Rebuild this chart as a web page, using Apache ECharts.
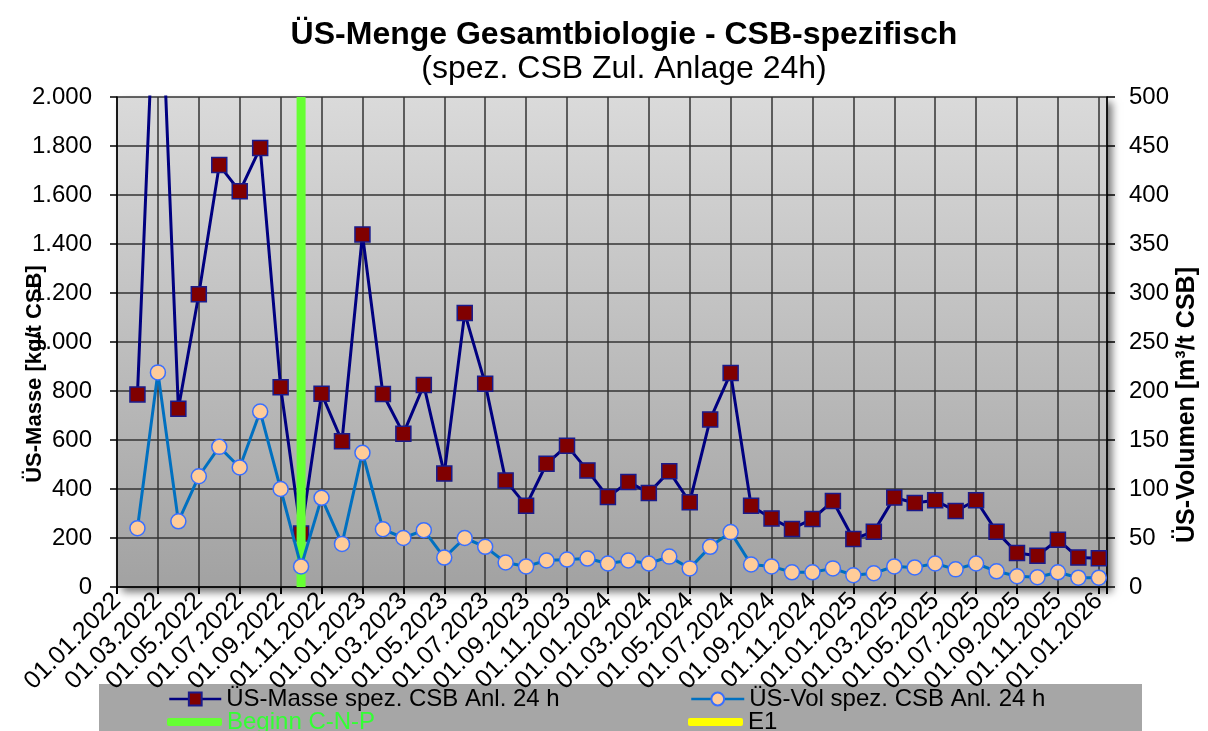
<!DOCTYPE html>
<html>
<head>
<meta charset="utf-8">
<script src="https://cdn.jsdelivr.net/npm/echarts@6/dist/echarts.min.js"></script>
<style>
  html, body { margin: 0; padding: 0; background: #fff; }
  #chart { width: 1208px; height: 731px; }
</style>
</head>
<body>
<div id="chart"></div>
<script>
// Monatswerte (Monat.Jahr)
var dates = [
    '02.2022','03.2022','04.2022','05.2022','06.2022','07.2022','08.2022','09.2022','10.2022','11.2022','12.2022',
    '01.2023','02.2023','03.2023','04.2023','05.2023','06.2023','07.2023','08.2023','09.2023','10.2023','11.2023','12.2023',
    '01.2024','02.2024','03.2024','04.2024','05.2024','06.2024','07.2024','08.2024','09.2024','10.2024','11.2024','12.2024',
    '01.2025','02.2025','03.2025','04.2025','05.2025','06.2025','07.2025','08.2025','09.2025','10.2025','11.2025','12.2025',
    '01.2026'
];
// ÜS-Masse spez. CSB [kg/t CSB]
var masse = [
    786, 2800, 728, 1195, 1722, 1615, 1792, 815, 218, 789, 595,
    1439, 788, 626, 824, 463, 1118, 830, 435, 332, 503, 577, 476,
    367, 429, 384, 472, 346, 684, 873, 332, 280, 237, 278, 351,
    196, 226, 365, 343, 354, 310, 354, 226, 139, 128, 193, 120,
    117
];
// ÜS-Vol spez. CSB [m³/t CSB]
var vol = [
    60, 219, 67, 113, 143, 122, 179, 100, 21, 91, 44,
    137, 59, 50, 58, 30, 50, 41, 25, 21, 27, 28, 29,
    24, 27, 24, 31, 19, 41, 56, 23, 21, 15, 15, 19,
    12, 14, 21, 20, 24, 18, 24, 16, 11, 10, 15, 9.5,
    9.5
];
var beginnCNP = '10.2022';   // Beginn C-N-P
var startJahr = 2022;         // x-Achse beginnt 01.01.2022

var font = "'Liberation Sans', Arial, sans-serif";

// Monat.Jahr -> Monatsindex ab 01.01.2022
function monIdx(s) {
    var p = s.split('.');
    return (parseInt(p[1], 10) - startJahr) * 12 + parseInt(p[0], 10) - 1;
}
function pad(n) { return n < 10 ? '0' + n : '' + n; }
function tausend(v) {
    return String(v).replace(/\B(?=(\d{3})+(?!\d))/g, '.');
}

var masseData = [], volData = [];
for (var i = 0; i < dates.length; i++) {
    masseData.push([monIdx(dates[i]), masse[i]]);
    volData.push([monIdx(dates[i]), vol[i]]);
}
var cnpX = monIdx(beginnCNP);

var chart = echarts.init(document.getElementById('chart'));

var legendText = { fontFamily: font, fontSize: 24, color: '#000' };

var option = {
    animation: false,
    backgroundColor: '#fff',
    textStyle: { fontFamily: font },
    title: {
        text: 'ÜS-Menge Gesamtbiologie - CSB-spezifisch',
        subtext: '(spez. CSB Zul. Anlage 24h)',
        left: 624,
        textAlign: 'center',
        top: 19,
        padding: 0,
        itemGap: 2,
        textStyle: { fontFamily: font, fontSize: 32, fontWeight: 'bold', color: '#000' },
        subtextStyle: { fontFamily: font, fontSize: 32, color: '#000' }
    },
    grid: {
        left: 117, right: 101, top: 97, bottom: 144,
        show: true,
        borderWidth: 0,
        backgroundColor: new echarts.graphic.LinearGradient(0, 0, 0, 1, [
            { offset: 0, color: '#dadada' },
            { offset: 1, color: '#a2a2a2' }
        ]),
        shadowColor: 'rgba(0,0,0,0.55)',
        shadowBlur: 8,
        shadowOffsetX: 5,
        shadowOffsetY: 5
    },
    graphic: [
        { type: 'rect', left: 99, top: 684, z: -1,
          shape: { width: 1043, height: 47 }, style: { fill: '#a6a6a6' } },
        { type: 'text', x: 35, y: 374, rotation: Math.PI / 2,
          style: { text: 'ÜS-Masse [kg/t CSB]', font: 'bold 22px ' + font, fill: '#000',
                   align: 'center', verticalAlign: 'middle' } },
        { type: 'text', x: 1187, y: 405, rotation: Math.PI / 2,
          style: { text: 'ÜS-Volumen [m³/t CSB]', font: 'bold 25px ' + font, fill: '#000',
                   align: 'center', verticalAlign: 'middle' } }
    ],
    legend: [
        { data: ['ÜS-Masse spez. CSB Anl. 24 h'], left: 168, top: 687, padding: 0,
          itemWidth: 52, itemHeight: 16, lineStyle: { width: 2.5 }, textStyle: legendText },
        { data: ['ÜS-Vol spez. CSB Anl. 24 h'], left: 690, top: 687, padding: 0,
          itemWidth: 53, itemHeight: 16, lineStyle: { width: 2.5 }, textStyle: legendText },
        { data: [{ name: 'Beginn C-N-P', icon: 'roundRect' }], left: 167, top: 710, padding: 0,
          itemWidth: 55, itemHeight: 8,
          textStyle: { fontFamily: font, fontSize: 24, color: '#33ff33' } },
        { data: [{ name: 'E1', icon: 'roundRect' }], left: 688, top: 710, padding: 0,
          itemWidth: 55, itemHeight: 8, textStyle: legendText }
    ],
    xAxis: {
        type: 'value',
        min: 0,
        max: 48.4,
        interval: 2,
        axisLine: { show: true, lineStyle: { color: '#000', width: 1.5 } },
        axisTick: { show: true, length: 7, lineStyle: { color: '#000', width: 2 } },
        splitLine: { show: true, lineStyle: { color: '#333', width: 1.5 } },
        axisLabel: {
            rotate: 45,
            margin: 10,
            fontSize: 25,
            color: '#000',
            fontFamily: font,
            formatter: function (v) {
                if (Math.abs(v - Math.round(v)) > 1e-6) return '';
                var y = startJahr + Math.floor(v / 12);
                var m = v % 12 + 1;
                return '01.' + pad(m) + '.' + y;
            }
        }
    },
    yAxis: [
        {
            type: 'value',
            min: 0, max: 2000, interval: 200,
            axisLine: { show: true, lineStyle: { color: '#000', width: 1.5 } },
            axisTick: { show: true, length: 7, lineStyle: { color: '#000', width: 1.5 } },
            splitLine: { show: true, lineStyle: { color: '#333', width: 1.5 } },
            axisLabel: { fontSize: 24, color: '#000', fontFamily: font, margin: 25,
                         formatter: function (v) { return tausend(v); } }
        },
        {
            type: 'value',
            min: 0, max: 500, interval: 50,
            position: 'right',
            axisLine: { show: true, lineStyle: { color: '#000', width: 1.5 } },
            axisTick: { show: true, length: 8, lineStyle: { color: '#000', width: 1.5 } },
            splitLine: { show: false },
            axisLabel: { fontSize: 24, color: '#000', fontFamily: font, margin: 22 }
        }
    ],
    series: [
        {
            name: 'ÜS-Masse spez. CSB Anl. 24 h',
            type: 'line',
            yAxisIndex: 0,
            z: 2,
            data: masseData,
            clip: true,
            symbol: 'rect',
            symbolSize: 15,
            lineStyle: { color: '#000080', width: 3 },
            itemStyle: { color: '#800000', borderColor: '#1a1a8c', borderWidth: 1.5 }
        },
        {
            name: 'Beginn C-N-P',
            type: 'line',
            yAxisIndex: 0,
            z: 3,
            data: [[cnpX, 0], [cnpX, 2000]],
            symbol: 'none',
            lineStyle: { color: '#66ff33', width: 9 },
            itemStyle: { color: '#66ff33' }
        },
        {
            name: 'ÜS-Vol spez. CSB Anl. 24 h',
            type: 'line',
            yAxisIndex: 1,
            z: 4,
            data: volData,
            clip: true,
            symbol: 'circle',
            symbolSize: 15,
            lineStyle: { color: '#0070c0', width: 3 },
            itemStyle: { color: '#ffcc99', borderColor: '#3a6fff', borderWidth: 1.5 }
        },
        {
            name: 'E1',
            type: 'line',
            yAxisIndex: 0,
            data: [],
            symbol: 'none',
            lineStyle: { color: '#ffff00', width: 7 },
            itemStyle: { color: '#ffff00' }
        }
    ]
};
chart.setOption(option);
</script>
</body>
</html>
